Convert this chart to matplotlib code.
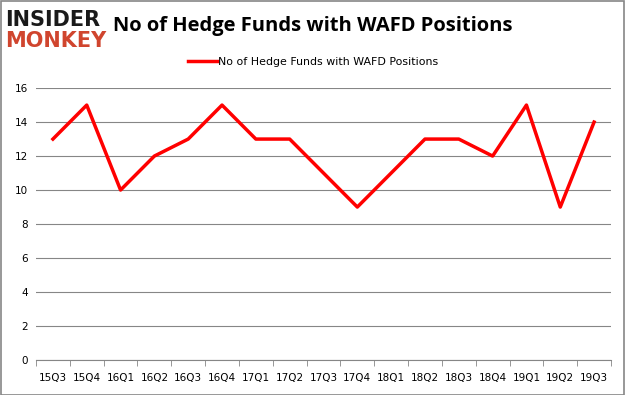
import matplotlib.pyplot as plt
import numpy as np

quarters = ["15Q3", "15Q4", "16Q1", "16Q2", "16Q3", "16Q4", "17Q1", "17Q2", "17Q3",
            "17Q4", "18Q1", "18Q2", "18Q3", "18Q4", "19Q1", "19Q2", "19Q3"]
funds = [13, 15, 10, 12, 13, 15, 13, 13, 11, 9, 11, 13, 13, 12, 15, 9, 14]
series_name = "No of Hedge Funds with WAFD Positions"


def main() -> None:
    fig = plt.figure(figsize=(6.25, 3.95), dpi=100)
    ax = fig.add_axes([0.0576, 0.0886, 0.92, 0.6884])

    x = np.arange(len(quarters))
    ax.plot(x, funds, color="#ff0000", linewidth=2.5, label=series_name)

    ax.set_xlim(-0.5, len(quarters) - 0.5)
    ax.set_ylim(0, 16)
    ax.set_yticks(range(0, 17, 2))
    ax.set_xticks(x)
    ax.set_xticklabels(quarters, fontsize=7.5, family="DejaVu Sans")
    ax.set_xticks(np.arange(-0.5, len(quarters), 1), minor=True)
    ax.tick_params(axis="x", which="major", length=0, pad=9)
    ax.tick_params(axis="x", which="minor", length=4, color="#868686")
    ax.tick_params(axis="y", length=0, labelsize=7.5, pad=6)
    ax.grid(axis="y", color="#868686", linewidth=0.8)
    ax.set_axisbelow(True)
    for side in ("top", "right", "left"):
        ax.spines[side].set_visible(False)
    ax.spines["bottom"].set_color("#868686")

    ax.legend(loc="lower center", bbox_to_anchor=(0.482, 1.04), frameon=False,
              fontsize=7.9, handlelength=2.6, handletextpad=0.1)

    fig.text(0.501, 0.935, "No of Hedge Funds with WAFD Positions", ha="center",
             va="center", fontsize=14.5, fontweight="bold", family="Open Sans")
    fig.text(0.008, 0.95, "INSIDER", fontsize=15, fontweight="heavy",
             color="#1a1a1a", va="center", family="DejaVu Sans")
    fig.text(0.008, 0.895, "MONKEY", fontsize=15, fontweight="heavy",
             color="#d0452e", va="center", family="DejaVu Sans")

    border = plt.Rectangle((0.001, 0.001), 0.997, 0.997, transform=fig.transFigure,
                           fill=False, edgecolor="#868686", linewidth=1.2)
    fig.add_artist(border)

    fig.savefig("out.png", dpi=100, facecolor="white")


if __name__ == "__main__":
    main()
